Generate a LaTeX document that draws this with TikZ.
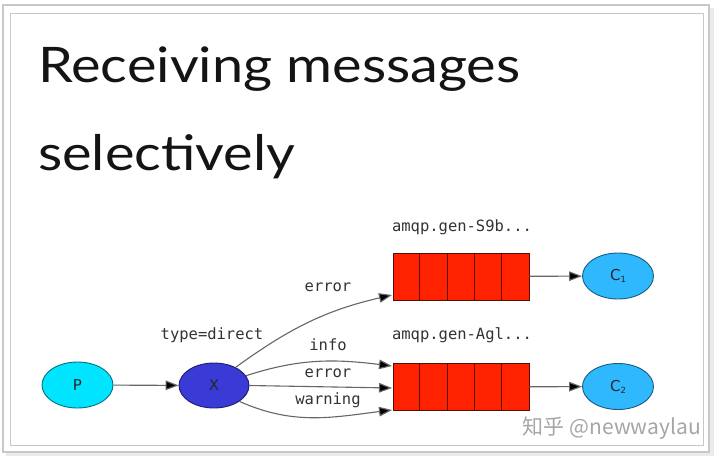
\documentclass[tikz,border=0pt]{standalone}
\usepackage{fontspec}
\setmainfont{Lato}
\newfontfamily\titlef[FakeStretch=1.14]{Lato}
\newfontfamily\monof{DejaVu Sans Mono}
\newfontfamily\nodef{DejaVu Sans}
\newfontfamily\cjkf{Noto Sans CJK SC}
\usetikzlibrary{arrows.meta,shapes.geometric,calc}
\definecolor{pcol}{RGB}{0,228,255}
\definecolor{xcol}{RGB}{58,58,215}
\definecolor{qcol}{RGB}{255,34,0}
\definecolor{ccol}{RGB}{48,184,255}
\definecolor{framecol}{RGB}{200,200,200}
\tikzset{
  ell/.style={ellipse, draw=#1!50!black, line width=0.9pt, minimum width=71pt, minimum height=46pt, inner sep=0pt, font=\nodef\fontsize{15}{17}\selectfont, text=black!85},
  queuebox/.style={rectangle, draw=qcol!35!black, fill=qcol, line width=0.9pt, minimum width=136pt, minimum height=47pt, inner sep=0pt},
  lbl/.style={font=\monof\fontsize{15.5}{18}\selectfont, text=black!80, inner sep=0pt},
  conn/.style={draw=black!60, line width=1.1pt, -{Triangle[length=13pt,width=9.5pt,fill=black]}},
  ttl/.style={font=\titlef\fontsize{49}{58}\selectfont, text=black!92, anchor=base west, inner sep=0pt}
}
\begin{document}
\begin{tikzpicture}[x=1pt,y=-1pt]
\useasboundingbox (0,0) rectangle (720,459);
% frame
\fill[black!8] (6,8) rectangle (714,456);
\filldraw[fill=white, draw=framecol, line width=1.2pt] (3,5) rectangle (709,452);
\draw[draw=framecol, line width=1pt] (10,13) rectangle (703,445);
% title
\node[ttl] (t1) at (38,82) {Receiving messages};
\node[ttl] (t2) at (38,170) {selectively};
% nodes
\node[ell=pcol, fill=pcol] (P) at (77.5,385) {P};
\node[ell=xcol, fill=xcol, minimum width=70pt, minimum height=45pt] (X) at (214,385.5) {X};
\node[queuebox] (Q1) at (461,276.5) {};
\node[queuebox] (Q2) at (461,387) {};
\foreach \q in {Q1,Q2}{
  \foreach \i in {1,2,3,4}{
    \draw[qcol!35!black, line width=0.9pt] ($(\q.north west)+(\i*27.2,0)$) -- ($(\q.south west)+(\i*27.2,0)$);
  }
}
\node[ell=ccol, fill=ccol] (C1) at (618,276) {C\raisebox{-2pt}{\fontsize{8.5}{9}\selectfont 1}};
\node[ell=ccol, fill=ccol] (C2) at (618,386.5) {C\raisebox{-2pt}{\fontsize{8.5}{9}\selectfont 2}};
% labels
\node[lbl] (n1) at (462,227) {amqp.gen-S9b...};
\node[lbl] (n2) at (462,335) {amqp.gen-Agl...};
\node[lbl] (ty) at (212,335) {type=direct};
\node[lbl] (le1) at (328,287) {error};
\node[lbl] (le2) at (328,345) {info};
\node[lbl] (le3) at (328,373) {error};
\node[lbl] (le4) at (328,400) {warning};
% connector end points
\coordinate (q1in) at (392,295);
\coordinate (q2a) at (392,366);
\coordinate (q2b) at (392,388);
\coordinate (q2c) at (392,410);
% connectors
\draw[conn] (P) -- (X);
\draw[conn] (X.40) to[out=36, in=193] (q1in);
\draw[conn] (X.17) to[out=18, in=173] (q2a);
\draw[conn] (X.east) -- (q2b);
\draw[conn] (X.-32) to[out=-24, in=187] (q2c);
\draw[conn] (Q1) -- (C1);
\draw[conn] (Q2) -- (C2);
% watermark
\node[font=\cjkf\fontsize{21}{24}\selectfont, text=black!35, anchor=east, inner sep=0pt] (wm) at (701,428) {知乎 @newwaylau};
\end{tikzpicture}
\end{document}
